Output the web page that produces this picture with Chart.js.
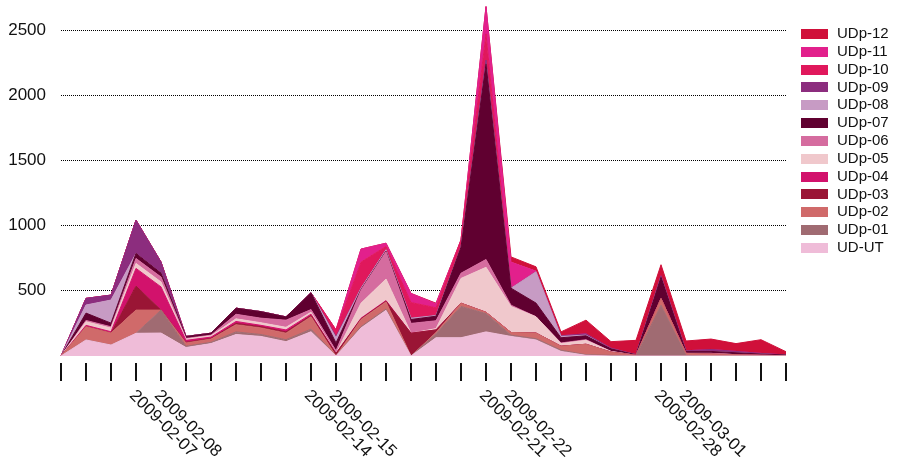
<!DOCTYPE html>
<html>
<head>
<meta charset="utf-8">
<script src="https://cdn.jsdelivr.net/npm/chart.js@4/dist/chart.umd.min.js"></script>
<style>
  html, body { margin: 0; padding: 0; background: #fff; }
  canvas { display: block; }
</style>
</head>
<body>
<canvas id="chart" width="898" height="466"></canvas>
<script>
// Daily counts per unit, 2009-02-04 .. 2009-03-05
const dates = [
  '2009-02-04','2009-02-05','2009-02-06','2009-02-07','2009-02-08','2009-02-09',
  '2009-02-10','2009-02-11','2009-02-12','2009-02-13','2009-02-14','2009-02-15',
  '2009-02-16','2009-02-17','2009-02-18','2009-02-19','2009-02-20','2009-02-21',
  '2009-02-22','2009-02-23','2009-02-24','2009-02-25','2009-02-26','2009-02-27',
  '2009-02-28','2009-03-01','2009-03-02','2009-03-03','2009-03-04','2009-03-05'
];
// Only weekend dates carry a text label under the axis
const labeledDates = ['2009-02-07','2009-02-08','2009-02-14','2009-02-15',
                      '2009-02-21','2009-02-22','2009-02-28','2009-03-01'];
const yTicks = [500, 1000, 1500, 2000, 2500];

const udUT  = [0,123,84,174,176,65,95,165,150,110,186,0,215,350,0,140,140,185,150,123,35,5,0,0,0,0,0,0,0,0];
const udp01 = [0,0,0,0,176,10,10,20,15,15,20,0,10,10,0,30,240,140,10,10,10,5,5,0,390,5,0,0,0,0];
const udp02 = [0,102,92,178,0,25,25,55,50,50,95,0,55,55,0,10,25,10,20,43,30,80,25,5,50,15,15,10,5,3];
const udp03 = [0,0,0,184,0,5,5,10,10,10,10,20,5,5,175,20,0,0,0,0,0,0,0,0,0,0,0,0,0,0];
const udp04 = [0,10,10,136,178,15,10,15,10,15,10,0,5,5,0,0,0,0,0,0,0,0,0,0,0,0,0,0,0,0];
const udp05 = [0,28,28,38,38,10,10,20,20,20,15,0,115,165,0,10,190,345,200,125,20,30,5,0,0,0,5,0,0,0];
const udp06 = [0,10,10,38,38,5,5,35,35,55,20,20,100,210,75,60,40,60,10,0,5,5,0,0,0,0,0,0,0,0];
const udp07 = [0,56,28,39,30,15,15,47,50,25,129,60,5,5,30,35,200,1500,130,105,40,30,20,5,165,15,15,15,10,5];
const udp08 = [0,62,177,0,0,0,0,0,0,0,0,40,10,10,10,5,0,0,0,240,10,5,0,0,0,0,0,0,0,0];
const udp09 = [0,51,38,255,85,0,0,0,0,0,0,10,0,0,0,0,0,30,0,0,5,10,5,0,10,5,15,10,5,0];
const udp10 = [0,0,0,0,0,0,0,0,0,0,0,50,200,25,120,60,55,200,0,0,0,0,0,0,0,0,0,0,0,0];
const udp11 = [0,0,0,0,0,0,0,0,0,0,0,0,100,25,70,30,0,210,200,5,0,0,0,0,0,0,0,0,0,0];
const udp12 = [0,0,0,0,0,0,0,0,0,0,0,0,0,0,0,5,0,0,40,33,30,105,50,110,85,75,80,60,105,25];

const seriesNames  = ['UD-UT','UDp-01','UDp-02','UDp-03','UDp-04','UDp-05','UDp-06',
                      'UDp-07','UDp-08','UDp-09','UDp-10','UDp-11','UDp-12'];
const seriesValues = [udUT, udp01, udp02, udp03, udp04, udp05, udp06,
                      udp07, udp08, udp09, udp10, udp11, udp12];
const seriesColors = ['#efbcd8','#a06b72','#d06a6a','#9a1535','#d2126c','#f0c8cc','#d56c9f',
                      '#600030','#c79bc4','#8c2d7e','#e0185c','#e2208c','#d0103a'];

const FONT = '"Liberation Sans", Arial, Helvetica, sans-serif';

// Tick marks, rotated weekend labels and the legend column
const decorations = {
  id: 'decorations',
  afterDraw(chart) {
    const ctx = chart.ctx;
    const xs = chart.scales.x;
    const area = chart.chartArea;
    ctx.save();

    ctx.strokeStyle = '#111';
    ctx.lineWidth = 2;
    dates.forEach((d, i) => {
      const x = Math.round(xs.getPixelForValue(i));
      ctx.beginPath();
      ctx.moveTo(x, area.bottom + 7);
      ctx.lineTo(x, area.bottom + 25);
      ctx.stroke();
    });

    ctx.font = '17px ' + FONT;
    ctx.fillStyle = '#111';
    ctx.textAlign = 'left';
    ctx.textBaseline = 'middle';
    labeledDates.forEach(d => {
      const i = dates.indexOf(d);
      const x = xs.getPixelForValue(i);
      ctx.save();
      ctx.translate(x - 4, area.bottom + 37);
      ctx.rotate(Math.PI / 4);
      ctx.fillText(d, 0, 0);
      ctx.restore();
    });

    ctx.font = '15px ' + FONT;
    const sets = chart.data.datasets.slice().reverse();
    sets.forEach((ds, k) => {
      const cy = 34 + k * 17.83;
      ctx.fillStyle = ds.backgroundColor;
      ctx.fillRect(801, Math.round(cy - 5), 27, 10);
      ctx.fillStyle = '#111';
      ctx.fillText(ds.label, 837, cy);
    });

    ctx.restore();
  }
};

new Chart(document.getElementById('chart'), {
  type: 'line',
  data: {
    labels: dates,
    datasets: seriesNames.map((name, i) => ({
      label: name,
      data: seriesValues[i],
      backgroundColor: seriesColors[i],
      borderColor: seriesColors[i],
      borderWidth: 1,
      fill: i === 0 ? 'origin' : '-1',
      pointRadius: 0,
      tension: 0
    }))
  },
  options: {
    responsive: false,
    animation: false,
    devicePixelRatio: 1,
    layout: { padding: { left: 8, right: 112, top: 2, bottom: 110 } },
    plugins: { legend: { display: false }, tooltip: { enabled: false } },
    scales: {
      x: { type: 'category', display: false, offset: false, stacked: true },
      y: {
        stacked: true,
        min: 0,
        max: 2715,
        afterBuildTicks: s => { s.ticks = yTicks.map(v => ({ value: v })); },
        afterFit: s => { s.width = 53; s.paddingTop = 0; s.paddingBottom = 0; },
        grid: { color: '#000', lineWidth: 1, drawTicks: false },
        border: { display: false, dash: [1, 1] },
        ticks: {
          padding: 15, color: '#111', font: { size: 17, family: FONT },
          callback: v => String(v)
        }
      }
    }
  },
  plugins: [decorations]
});
</script>
</body>
</html>
